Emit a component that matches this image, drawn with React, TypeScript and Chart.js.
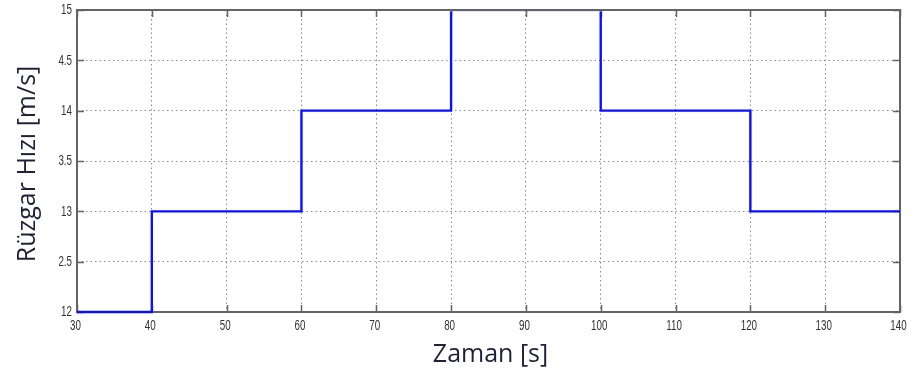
import React, { useEffect, useRef } from "react";
import { Chart, registerables } from "chart.js";

Chart.register(...registerables);

// Step profile of wind speed over time
const times = [30, 40, 60, 80, 100, 120, 140];
const speeds = [12, 13, 14, 15, 14, 13, 13];

// Axis ticks
const xTicks = [30, 40, 50, 60, 70, 80, 90, 100, 110, 120, 130, 140];
const xTickLabels = ["30", "40", "50", "60", "70", "80", "90", "100", "110", "120", "130", "140"];
const yTickValues = [12, 12.5, 13, 13.5, 14, 14.5, 15];
const yTickLabels = ["12", "2.5", "13", "3.5", "14", "4.5", "15"];

const xTitle = "Zaman [s]";
const yTitle = "Rüzgar Hızı [m/s]";

const W = 916;
const H = 376;
const FRAME = "#646464";
const LABEL = "#333333";
const TICK_FONT = '14px "Liberation Sans", Arial, sans-serif';
const SQUEEZE = 0.7;

// Draws a narrow tick label centred (or right-aligned) at x,y
function narrowText(ctx: CanvasRenderingContext2D, text: string, x: number, y: number, align: "center" | "right") {
  ctx.save();
  ctx.translate(x, y);
  ctx.scale(SQUEEZE, 1);
  ctx.textAlign = align;
  ctx.textBaseline = "middle";
  ctx.fillText(text, 0, 0);
  ctx.restore();
}

const framePlugin = {
  id: "matlabFrame",
  beforeDatasetsDraw(chart: any) {
    const { ctx, chartArea: a, scales } = chart;
    const xs = scales.x;
    const ys = scales.y;
    ctx.save();
    ctx.strokeStyle = FRAME;
    ctx.lineWidth = 1.5;
    ctx.setLineDash([]);
    const tl = 7;
    ctx.beginPath();
    xs.ticks.forEach((t: any) => {
      const px = Math.round(xs.getPixelForValue(t.value)) + 0.5;
      ctx.moveTo(px, a.bottom);
      ctx.lineTo(px, a.bottom - tl);
      ctx.moveTo(px, a.top);
      ctx.lineTo(px, a.top + tl);
    });
    ys.ticks.forEach((t: any) => {
      const py = Math.round(ys.getPixelForValue(t.value)) + 0.5;
      ctx.moveTo(a.left, py);
      ctx.lineTo(a.left + tl, py);
      ctx.moveTo(a.right, py);
      ctx.lineTo(a.right - tl, py);
    });
    ctx.stroke();
    ctx.lineWidth = 2;
    ctx.strokeRect(a.left, a.top, a.right - a.left, a.bottom - a.top);
    ctx.restore();
  },
  afterDraw(chart: any) {
    const { ctx, chartArea: a, scales } = chart;
    const xs = scales.x;
    const ys = scales.y;
    ctx.save();
    ctx.fillStyle = LABEL;
    ctx.font = TICK_FONT;
    xs.ticks.forEach((t: any, i: number) => {
      const px = xs.getPixelForValue(t.value);
      narrowText(ctx, xTickLabels[i], px - 1.5, a.bottom + 14, "center");
    });
    ys.ticks.forEach((t: any) => {
      const i = yTickValues.indexOf(t.value);
      const py = ys.getPixelForValue(t.value);
      narrowText(ctx, i >= 0 ? yTickLabels[i] : "", a.left - 5, py + 0.5, "right");
    });
    ctx.restore();

    ctx.save();
    ctx.fillStyle = "#1e2238";
    ctx.font = '25px "Open Sans", "Noto Sans", sans-serif';
    ctx.textAlign = "center";
    ctx.textBaseline = "middle";
    ctx.fillText(xTitle, (a.left + a.right) / 2 + 2, 355);
    ctx.translate(28, 164);
    ctx.rotate(-Math.PI / 2);
    ctx.fillText(yTitle, 0, 0);
    ctx.restore();
  },
};

export default function App() {
  const ref = useRef<HTMLCanvasElement>(null);

  useEffect(() => {
    document.body.style.margin = "0";
    const canvas = ref.current!;
    const chart = new Chart(canvas, {
      type: "line",
      data: {
        datasets: [
          {
            data: times.map((t, i) => ({ x: t, y: speeds[i] })),
            borderColor: "#0a10ff",
            borderWidth: 2.4,
            pointRadius: 0,
            stepped: "before",
            fill: false,
            // the upper box edge stays on top, the lower edge stays under the line
            clip: { left: 4, right: 4, top: -1.5, bottom: 4 },
          },
        ],
      },
      options: {
        animation: false,
        responsive: false,
        devicePixelRatio: 1,
        layout: { padding: { top: 10, right: 16, left: 0, bottom: 0 } },
        plugins: {
          legend: { display: false },
          tooltip: { enabled: false },
        },
        scales: {
          x: {
            type: "linear",
            min: 30,
            max: 140,
            afterBuildTicks: (s: any) => {
              s.ticks = xTicks.map((v) => ({ value: v }));
            },
            afterFit: (s: any) => {
              s.height = 64;
            },
            grid: { color: "#8a8a8a", lineWidth: 1, drawTicks: false },
            border: { display: false, dash: [1.5, 3] },
            ticks: { display: false, autoSkip: false },
          },
          y: {
            type: "linear",
            min: 12,
            max: 15,
            afterBuildTicks: (s: any) => {
              s.ticks = yTickValues.map((v) => ({ value: v }));
            },
            afterFit: (s: any) => {
              s.width = 77;
            },
            grid: { color: "#8a8a8a", lineWidth: 1, drawTicks: false },
            border: { display: false, dash: [1.5, 3] },
            ticks: { display: false, autoSkip: false },
          },
        },
      },
      plugins: [framePlugin],
    } as any);
    return () => chart.destroy();
  }, []);

  return (
    <div style={{ width: W, height: H, background: "#fff" }}>
      <canvas ref={ref} width={W} height={H} style={{ display: "block" }} />
    </div>
  );
}
